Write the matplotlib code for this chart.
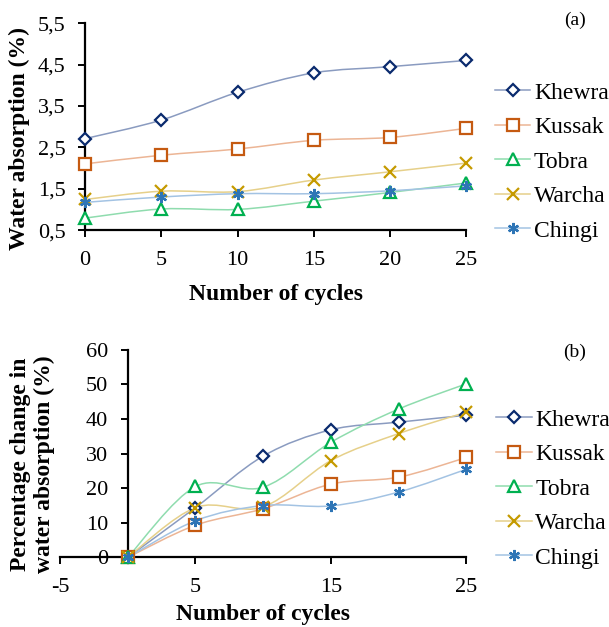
"""Water absorption vs. freeze-thaw cycles for five sandstones, two panels."""
import matplotlib
matplotlib.use("Agg")
import matplotlib.pyplot as plt
from matplotlib.path import Path
from matplotlib.patches import PathPatch
from matplotlib.lines import Line2D
from matplotlib.ticker import FuncFormatter

cycles = [0, 5, 10, 15, 20, 25]
names = ["Khewra", "Kussak", "Tobra", "Warcha", "Chingi"]

# panel (a): water absorption (%)
wa_khewra = [2.71, 3.16, 3.83, 4.30, 4.45, 4.60]
wa_kussak = [2.10, 2.31, 2.46, 2.67, 2.74, 2.96]
wa_tobra = [0.79, 1.01, 1.00, 1.20, 1.41, 1.64]
wa_warcha = [1.24, 1.44, 1.43, 1.71, 1.91, 2.12]
wa_chingi = [1.17, 1.30, 1.38, 1.38, 1.45, 1.57]

# panel (b): percentage change in water absorption (%)
pc_khewra = [0, 14.4, 29.3, 36.9, 39.1, 41.1]
pc_kussak = [0, 9.3, 14.1, 21.2, 23.2, 28.9]
pc_tobra = [0, 20.5, 20.3, 33.3, 42.9, 50.2]
pc_warcha = [0, 14.4, 14.6, 28.0, 35.8, 42.0]
pc_chingi = [0, 10.6, 15.0, 14.9, 18.9, 25.5]

# (marker colour, line colour, marker)
styles = {
    "Khewra": ("#0a2a6e", "#8a9bc0", "D"),
    "Kussak": ("#c55a11", "#ecb595", "s"),
    "Tobra": ("#00b050", "#8fdcae", "^"),
    "Warcha": ("#c59a00", "#e6d08a", "x"),
    "Chingi": ("#2e75b6", "#a3c3e3", (6, 2, 0)),
}

plt.rcParams["font.family"] = ["Liberation Serif", "DejaVu Serif"]
plt.rcParams["axes.unicode_minus"] = False


def smooth_path(xs, ys):
    """Excel-style smoothed line: Catmull-Rom segments as cubic Beziers."""
    verts = [(xs[0], ys[0])]
    codes = [Path.MOVETO]
    n = len(xs)
    for i in range(n - 1):
        x0, y0 = (xs[i - 1], ys[i - 1]) if i > 0 else (xs[i], ys[i])
        x1, y1 = xs[i], ys[i]
        x2, y2 = xs[i + 1], ys[i + 1]
        x3, y3 = (xs[i + 2], ys[i + 2]) if i + 2 < n else (x2, y2)
        c1 = (x1 + (x2 - x0) / 6, y1 + (y2 - y0) / 6)
        c2 = (x2 - (x3 - x1) / 6, y2 - (y3 - y1) / 6)
        verts += [c1, c2, (x2, y2)]
        codes += [Path.CURVE4] * 3
    return Path(verts, codes)


def draw_series(ax, series):
    handles = []
    for name, ys in zip(names, series):
        mc, lc, mk = styles[name]
        ax.add_patch(PathPatch(smooth_path(cycles, ys), facecolor="none",
                               edgecolor=lc, linewidth=1.1, zorder=2,
                               clip_on=False))
        ms = 6 if mk == "D" else 8
        ax.plot(cycles, ys, linestyle="none", marker=mk, markersize=ms,
                markerfacecolor="white", markeredgecolor=mc,
                markeredgewidth=1.6, zorder=3, clip_on=False)
        handles.append(Line2D([], [], color=lc, linewidth=1.1, marker=mk,
                              markersize=ms, markerfacecolor="white",
                              markeredgecolor=mc, markeredgewidth=1.6))
    return handles


def style_axes(ax):
    for side in ("top", "right"):
        ax.spines[side].set_visible(False)
    for side in ("left", "bottom"):
        ax.spines[side].set_linewidth(1.6)
    ax.tick_params(direction="out", length=5, width=1.4, labelsize=16)
    ax.tick_params(axis="x", pad=10)
    ax.tick_params(axis="y", pad=9)


def add_legend(ax, handles):
    ax.legend(handles, names, loc="center left", bbox_to_anchor=(1.05, 0.33),
              frameon=False, fontsize=17, handlelength=1.5, handletextpad=0.15,
              labelspacing=0.55, borderaxespad=0)


fig = plt.figure(figsize=(6.09, 6.27), dpi=100)

# ---- panel (a)
ax1 = fig.add_axes([0.1396, 0.633, 0.6264, 0.330])
h = draw_series(ax1, [wa_khewra, wa_kussak, wa_tobra, wa_warcha, wa_chingi])
ax1.set_xlim(0, 25)
ax1.set_ylim(0.5, 5.5)
ax1.set_xticks(cycles)
ax1.set_yticks([0.5, 1.5, 2.5, 3.5, 4.5, 5.5])
ax1.yaxis.set_major_formatter(FuncFormatter(lambda v, p: f"{v:.1f}".replace(".", ",")))
style_axes(ax1)
ax1.set_xlabel("Number of cycles", fontsize=17, fontweight="bold", labelpad=10)
ax1.set_ylabel("Water absorption (%)", fontsize=17, fontweight="bold")
ax1.yaxis.set_label_coords(-0.145, 0.445)
add_legend(ax1, h)
fig.text(0.944, 0.968, "(a)", fontsize=14, ha="center", va="center")

# ---- panel (b)
ax2 = fig.add_axes([0.0985, 0.111, 0.6675, 0.331])
h = draw_series(ax2, [pc_khewra, pc_kussak, pc_tobra, pc_warcha, pc_chingi])
ax2.set_xlim(-5, 25)
ax2.set_ylim(0, 60)
ax2.set_xticks([-5, 5, 15, 25])
ax2.set_yticks(range(0, 61, 10))
ax2.spines["left"].set_position(("data", 0))
ax2.spines["bottom"].set_position(("data", 0))
style_axes(ax2)
ax2.set_xlabel("Number of cycles", fontsize=17, fontweight="bold", labelpad=5)
ax2.set_ylabel("Percentage change in\nwater absorption (%)", fontsize=17,
               fontweight="bold", linespacing=1.2)
ax2.yaxis.set_label_coords(-0.012, 0.45)
add_legend(ax2, h)
fig.text(0.944, 0.438, "(b)", fontsize=14, ha="center", va="center")

fig.savefig("out.png", dpi=100)
